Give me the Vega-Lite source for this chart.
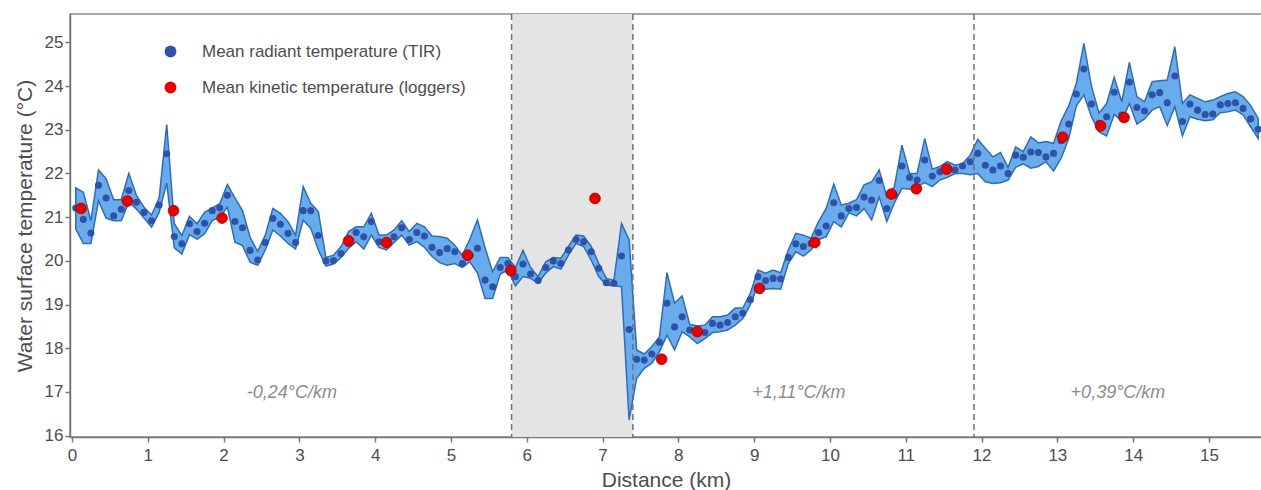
{
  "$schema": "https://vega.github.io/schema/vega-lite/v6.json",
  "width": 1192,
  "height": 423,
  "autosize": {"type": "none"},
  "padding": {"left": 70, "top": 14, "right": 0, "bottom": 53},
  "background": "white",
  "config": {
    "font": "Liberation Sans",
    "view": {"stroke": "#8a8a8a", "strokeWidth": 1.5},
    "axis": {
      "grid": false,
      "labelFontSize": 17,
      "titleFontSize": 21,
      "titleFontWeight": "normal",
      "labelColor": "#4d4d4d",
      "titleColor": "#4d4d4d",
      "domainColor": "#777777",
      "domainWidth": 1.5,
      "tickColor": "#777777",
      "tickWidth": 1.5,
      "tickSize": 5,
      "labelPadding": 3
    }
  },
  "datasets": {
    "tir": [
      {"d":0.05,"t":21.21,"lo":20.73,"hi":21.67},
      {"d":0.15,"t":20.95,"lo":20.4,"hi":21.57},
      {"d":0.25,"t":20.64,"lo":20.4,"hi":20.92},
      {"d":0.35,"t":21.73,"lo":21.38,"hi":22.08},
      {"d":0.45,"t":21.44,"lo":20.98,"hi":21.88},
      {"d":0.55,"t":21.03,"lo":20.92,"hi":21.4},
      {"d":0.65,"t":21.18,"lo":20.92,"hi":21.4},
      {"d":0.75,"t":21.61,"lo":21.34,"hi":22.0},
      {"d":0.85,"t":21.34,"lo":21.19,"hi":21.5},
      {"d":0.95,"t":21.11,"lo":20.98,"hi":21.23},
      {"d":1.05,"t":20.92,"lo":20.77,"hi":21.05},
      {"d":1.15,"t":21.28,"lo":21.11,"hi":21.44},
      {"d":1.25,"t":22.45,"lo":21.78,"hi":23.12},
      {"d":1.35,"t":20.56,"lo":20.3,"hi":20.85},
      {"d":1.45,"t":20.39,"lo":20.16,"hi":20.58},
      {"d":1.55,"t":20.85,"lo":20.6,"hi":21.02},
      {"d":1.65,"t":20.67,"lo":20.5,"hi":20.85},
      {"d":1.75,"t":20.86,"lo":20.62,"hi":21.11},
      {"d":1.85,"t":21.15,"lo":20.92,"hi":21.21},
      {"d":1.95,"t":21.21,"lo":21.0,"hi":21.31},
      {"d":2.05,"t":21.5,"lo":21.23,"hi":21.75},
      {"d":2.15,"t":20.9,"lo":20.43,"hi":21.44},
      {"d":2.25,"t":20.76,"lo":20.35,"hi":21.15},
      {"d":2.35,"t":20.24,"lo":19.97,"hi":20.54},
      {"d":2.45,"t":20.02,"lo":19.9,"hi":20.22},
      {"d":2.55,"t":20.42,"lo":20.25,"hi":20.59},
      {"d":2.65,"t":20.97,"lo":20.71,"hi":21.2},
      {"d":2.75,"t":20.84,"lo":20.57,"hi":21.09},
      {"d":2.85,"t":20.63,"lo":20.4,"hi":20.9},
      {"d":2.95,"t":20.42,"lo":20.27,"hi":20.59},
      {"d":3.05,"t":21.15,"lo":20.93,"hi":21.7},
      {"d":3.15,"t":21.15,"lo":20.75,"hi":21.32},
      {"d":3.25,"t":20.58,"lo":20.25,"hi":21.13},
      {"d":3.35,"t":20.0,"lo":19.88,"hi":20.08},
      {"d":3.45,"t":20.01,"lo":19.93,"hi":20.13},
      {"d":3.55,"t":20.17,"lo":20.08,"hi":20.33},
      {"d":3.65,"t":20.4,"lo":20.29,"hi":20.67},
      {"d":3.75,"t":20.65,"lo":20.44,"hi":20.78},
      {"d":3.85,"t":20.55,"lo":20.27,"hi":20.78},
      {"d":3.95,"t":20.9,"lo":20.59,"hi":21.09},
      {"d":4.05,"t":20.44,"lo":20.31,"hi":20.59},
      {"d":4.15,"t":20.42,"lo":20.25,"hi":20.59},
      {"d":4.25,"t":20.55,"lo":20.42,"hi":20.71},
      {"d":4.35,"t":20.76,"lo":20.59,"hi":20.92},
      {"d":4.45,"t":20.49,"lo":20.36,"hi":20.67},
      {"d":4.55,"t":20.65,"lo":20.44,"hi":20.86},
      {"d":4.65,"t":20.57,"lo":20.31,"hi":20.78},
      {"d":4.75,"t":20.31,"lo":20.1,"hi":20.57},
      {"d":4.85,"t":20.19,"lo":19.96,"hi":20.56},
      {"d":4.95,"t":20.28,"lo":19.9,"hi":20.52},
      {"d":5.05,"t":20.21,"lo":19.94,"hi":20.36},
      {"d":5.15,"t":19.94,"lo":19.85,"hi":20.13},
      {"d":5.25,"t":20.13,"lo":19.98,"hi":20.5},
      {"d":5.35,"t":20.29,"lo":19.72,"hi":20.94},
      {"d":5.45,"t":19.56,"lo":19.14,"hi":20.3},
      {"d":5.55,"t":19.41,"lo":19.14,"hi":19.75},
      {"d":5.65,"t":19.85,"lo":19.7,"hi":20.08},
      {"d":5.75,"t":19.94,"lo":19.79,"hi":20.08},
      {"d":5.85,"t":19.64,"lo":19.43,"hi":19.85},
      {"d":5.95,"t":19.93,"lo":19.64,"hi":20.24},
      {"d":6.05,"t":19.7,"lo":19.6,"hi":19.85},
      {"d":6.15,"t":19.55,"lo":19.49,"hi":19.64},
      {"d":6.25,"t":19.85,"lo":19.72,"hi":19.98},
      {"d":6.35,"t":20.0,"lo":19.87,"hi":20.08},
      {"d":6.45,"t":19.94,"lo":19.81,"hi":20.06},
      {"d":6.55,"t":20.25,"lo":20.13,"hi":20.33},
      {"d":6.65,"t":20.49,"lo":20.4,"hi":20.59},
      {"d":6.75,"t":20.44,"lo":20.33,"hi":20.57},
      {"d":6.85,"t":20.21,"lo":20.02,"hi":20.33},
      {"d":6.95,"t":19.83,"lo":19.64,"hi":19.94},
      {"d":7.05,"t":19.5,"lo":19.45,"hi":19.6},
      {"d":7.15,"t":19.49,"lo":19.43,"hi":19.56},
      {"d":7.25,"t":20.11,"lo":19.41,"hi":20.86},
      {"d":7.35,"t":18.43,"lo":16.36,"hi":20.48},
      {"d":7.45,"t":17.75,"lo":17.31,"hi":17.96},
      {"d":7.55,"t":17.73,"lo":17.54,"hi":17.87},
      {"d":7.65,"t":17.87,"lo":17.66,"hi":18.04},
      {"d":7.75,"t":18.14,"lo":17.92,"hi":18.26},
      {"d":7.85,"t":19.03,"lo":18.3,"hi":19.73},
      {"d":7.95,"t":18.49,"lo":17.96,"hi":19.03},
      {"d":8.05,"t":18.72,"lo":18.38,"hi":19.2},
      {"d":8.15,"t":18.42,"lo":18.26,"hi":18.55},
      {"d":8.25,"t":18.36,"lo":18.11,"hi":18.51},
      {"d":8.35,"t":18.36,"lo":18.22,"hi":18.53},
      {"d":8.45,"t":18.57,"lo":18.36,"hi":18.72},
      {"d":8.55,"t":18.53,"lo":18.38,"hi":18.72},
      {"d":8.65,"t":18.59,"lo":18.42,"hi":18.76},
      {"d":8.75,"t":18.72,"lo":18.53,"hi":18.92},
      {"d":8.85,"t":18.8,"lo":18.68,"hi":18.92},
      {"d":8.95,"t":19.11,"lo":19.0,"hi":19.26},
      {"d":9.05,"t":19.64,"lo":19.45,"hi":19.79},
      {"d":9.15,"t":19.55,"lo":19.35,"hi":19.72},
      {"d":9.25,"t":19.6,"lo":19.37,"hi":19.79},
      {"d":9.35,"t":19.59,"lo":19.35,"hi":19.73},
      {"d":9.45,"t":20.08,"lo":19.94,"hi":20.25},
      {"d":9.55,"t":20.39,"lo":20.21,"hi":20.63},
      {"d":9.65,"t":20.33,"lo":20.11,"hi":20.59},
      {"d":9.75,"t":20.4,"lo":20.25,"hi":20.52},
      {"d":9.85,"t":20.65,"lo":20.49,"hi":20.9},
      {"d":9.95,"t":20.8,"lo":20.55,"hi":21.2},
      {"d":10.05,"t":21.33,"lo":20.9,"hi":21.76},
      {"d":10.15,"t":21.03,"lo":20.78,"hi":21.28},
      {"d":10.25,"t":21.2,"lo":21.1,"hi":21.32},
      {"d":10.35,"t":21.22,"lo":21.03,"hi":21.4},
      {"d":10.45,"t":21.46,"lo":21.2,"hi":21.74},
      {"d":10.55,"t":21.39,"lo":20.94,"hi":21.81},
      {"d":10.65,"t":21.84,"lo":21.46,"hi":22.08},
      {"d":10.75,"t":21.2,"lo":20.9,"hi":21.47},
      {"d":10.85,"t":21.5,"lo":21.33,"hi":21.7},
      {"d":10.95,"t":22.17,"lo":21.66,"hi":22.65},
      {"d":11.05,"t":21.91,"lo":21.64,"hi":22.0},
      {"d":11.15,"t":21.85,"lo":21.7,"hi":22.0},
      {"d":11.25,"t":22.31,"lo":21.79,"hi":22.8},
      {"d":11.35,"t":21.94,"lo":21.7,"hi":22.1},
      {"d":11.45,"t":22.04,"lo":21.85,"hi":22.16},
      {"d":11.55,"t":22.07,"lo":21.91,"hi":22.27},
      {"d":11.65,"t":22.08,"lo":22.0,"hi":22.19},
      {"d":11.75,"t":22.17,"lo":22.0,"hi":22.23},
      {"d":11.85,"t":22.27,"lo":21.97,"hi":22.42},
      {"d":11.95,"t":22.46,"lo":22.0,"hi":22.78},
      {"d":12.05,"t":22.19,"lo":21.81,"hi":22.58},
      {"d":12.15,"t":22.08,"lo":21.77,"hi":22.38},
      {"d":12.25,"t":22.17,"lo":21.79,"hi":22.48},
      {"d":12.35,"t":22.0,"lo":21.85,"hi":22.14},
      {"d":12.45,"t":22.42,"lo":22.14,"hi":22.61},
      {"d":12.55,"t":22.37,"lo":22.22,"hi":22.5},
      {"d":12.65,"t":22.49,"lo":22.12,"hi":22.84},
      {"d":12.75,"t":22.48,"lo":22.16,"hi":22.7},
      {"d":12.85,"t":22.38,"lo":22.27,"hi":22.73},
      {"d":12.95,"t":22.46,"lo":22.06,"hi":22.69},
      {"d":13.05,"t":22.75,"lo":22.35,"hi":23.2},
      {"d":13.15,"t":23.13,"lo":22.8,"hi":23.55},
      {"d":13.25,"t":23.82,"lo":23.54,"hi":24.06},
      {"d":13.35,"t":24.39,"lo":23.8,"hi":24.98},
      {"d":13.45,"t":23.59,"lo":23.3,"hi":24.0},
      {"d":13.55,"t":23.15,"lo":22.95,"hi":23.38},
      {"d":13.65,"t":23.3,"lo":22.86,"hi":23.6},
      {"d":13.75,"t":23.86,"lo":23.35,"hi":24.2},
      {"d":13.85,"t":23.34,"lo":23.2,"hi":23.64},
      {"d":13.95,"t":24.09,"lo":23.6,"hi":24.54},
      {"d":14.05,"t":23.51,"lo":23.13,"hi":23.76},
      {"d":14.15,"t":23.43,"lo":23.25,"hi":23.64},
      {"d":14.25,"t":23.8,"lo":23.45,"hi":24.1},
      {"d":14.35,"t":23.85,"lo":23.53,"hi":24.12},
      {"d":14.45,"t":23.62,"lo":23.1,"hi":24.14},
      {"d":14.55,"t":24.23,"lo":23.53,"hi":24.9},
      {"d":14.65,"t":23.19,"lo":22.86,"hi":23.6},
      {"d":14.75,"t":23.59,"lo":23.3,"hi":23.8},
      {"d":14.85,"t":23.45,"lo":23.24,"hi":23.72},
      {"d":14.95,"t":23.35,"lo":23.21,"hi":23.64},
      {"d":15.05,"t":23.36,"lo":23.23,"hi":23.68},
      {"d":15.15,"t":23.57,"lo":23.39,"hi":23.76},
      {"d":15.25,"t":23.6,"lo":23.41,"hi":23.83},
      {"d":15.35,"t":23.62,"lo":23.45,"hi":23.87},
      {"d":15.45,"t":23.49,"lo":23.34,"hi":23.76},
      {"d":15.55,"t":23.25,"lo":23.07,"hi":23.56},
      {"d":15.65,"t":23.01,"lo":22.8,"hi":23.26}
    ],
    "loggers": [
      {"d":0.12,"t":21.2},{"d":0.73,"t":21.37},{"d":1.34,"t":21.15},{"d":1.98,"t":20.98},
      {"d":3.65,"t":20.46},{"d":4.15,"t":20.42},{"d":5.22,"t":20.13},{"d":5.79,"t":19.78},
      {"d":6.9,"t":21.43},{"d":7.78,"t":17.75},{"d":8.25,"t":18.38},{"d":9.07,"t":19.37},
      {"d":9.8,"t":20.42},{"d":10.81,"t":21.53},{"d":11.14,"t":21.65},{"d":11.54,"t":22.1},
      {"d":13.07,"t":22.83},{"d":13.57,"t":23.09},{"d":13.88,"t":23.28}
    ],
    "zone": [{"d":5.8,"d2":7.4}],
    "breaks": [{"d":5.8},{"d":7.4},{"d":11.9}],
    "notes": [
      {"d":2.9,"t":16.97,"label":"-0,24°C/km"},
      {"d":9.59,"t":16.97,"label":"+1,11°C/km"},
      {"d":13.8,"t":16.97,"label":"+0,39°C/km"}
    ]
  },
  "layer": [
    {
      "data": {"name": "zone"},
      "mark": {"type": "rect", "color": "#e4e4e4"},
      "encoding": {
        "x": {"field": "d", "type": "quantitative", "title": "Distance (km)",
              "scale": {"domain": [-0.026, 15.7], "nice": false, "zero": false}},
        "x2": {"field": "d2"}
      }
    },
    {
      "data": {"name": "tir"},
      "mark": {"type": "area", "fill": "#68acee", "fillOpacity": 1, "stroke": "#2f6db3", "strokeWidth": 1.5, "strokeJoin": "miter"},
      "encoding": {
        "x": {"field": "d", "type": "quantitative", "title": "Distance (km)",
              "axis": {"values": [0,1,2,3,4,5,6,7,8,9,10,11,12,13,14,15], "format": "d", "labelPadding": 5, "titlePadding": 6}},
        "y": {"field": "hi", "type": "quantitative", "title": "Water surface temperature (°C)",
              "scale": {"domain": [15.97, 25.65], "nice": false, "zero": false},
              "axis": {"values": [16,17,18,19,20,21,22,23,24,25], "format": "d", "labelPadding": 2, "titlePadding": 9}},
        "y2": {"field": "lo"}
      }
    },
    {
      "data": {"name": "breaks"},
      "mark": {"type": "rule", "color": "#707070", "strokeWidth": 1.5, "strokeDash": [6, 4]},
      "encoding": {
        "x": {"field": "d", "type": "quantitative", "title": "Distance (km)"}
      }
    },
    {
      "data": {"name": "tir"},
      "mark": {"type": "point", "filled": true, "opacity": 1, "size": 50},
      "encoding": {
        "x": {"field": "d", "type": "quantitative", "title": "Distance (km)"},
        "y": {"field": "t", "type": "quantitative", "title": "Water surface temperature (°C)"},
        "color": {
          "datum": "Mean radiant temperature (TIR)", "type": "nominal",
          "scale": {"domain": ["Mean radiant temperature (TIR)", "Mean kinetic temperature (loggers)"], "range": ["#2f52a6", "#e80000"]},
          "legend": {
            "orient": "none", "legendX": 92, "legendY": 29, "title": null,
            "symbolType": "circle", "symbolSize": 140, "symbolStrokeWidth": 0,
            "labelFontSize": 17, "labelColor": "#4d4d4d", "labelOffset": 23, "labelLimit": 500,
            "rowPadding": 18, "padding": 0
          }
        }
      }
    },
    {
      "data": {"name": "loggers"},
      "mark": {"type": "point", "filled": true, "opacity": 1, "size": 115, "stroke": "#a00000", "strokeWidth": 0.8},
      "encoding": {
        "x": {"field": "d", "type": "quantitative", "title": "Distance (km)"},
        "y": {"field": "t", "type": "quantitative", "title": "Water surface temperature (°C)"},
        "color": {"datum": "Mean kinetic temperature (loggers)", "type": "nominal"}
      }
    },
    {
      "data": {"name": "notes"},
      "mark": {"type": "text", "fontSize": 18, "fontStyle": "italic", "color": "#8c8c8c", "align": "center", "baseline": "middle"},
      "encoding": {
        "x": {"field": "d", "type": "quantitative", "title": "Distance (km)"},
        "y": {"field": "t", "type": "quantitative", "title": "Water surface temperature (°C)"},
        "text": {"field": "label"}
      }
    }
  ]
}
